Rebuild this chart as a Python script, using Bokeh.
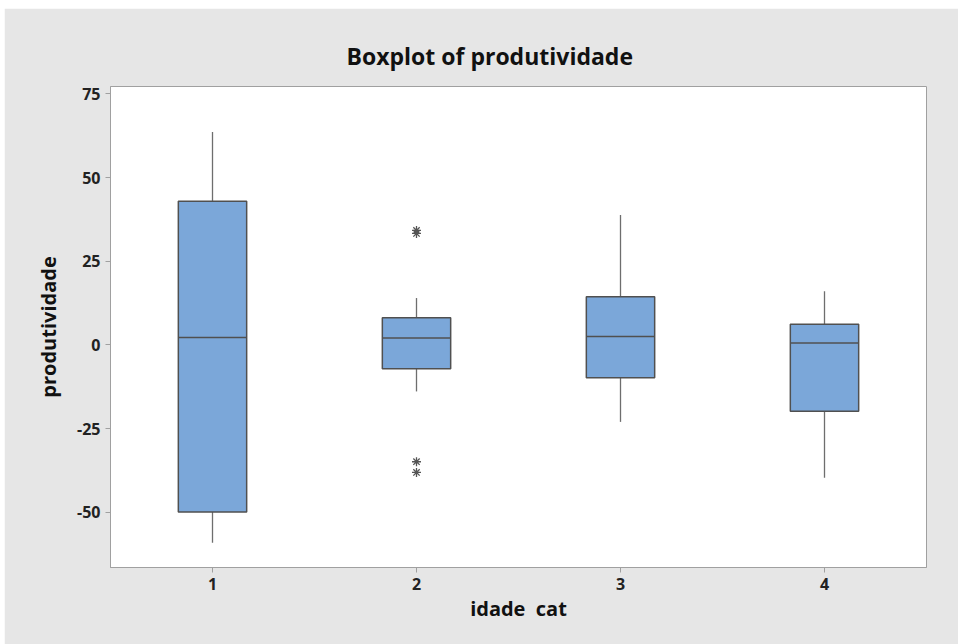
from bokeh.plotting import figure
from bokeh.models import ColumnDataSource, FixedTicker, Range1d
from bokeh.embed import file_html
from bokeh.resources import INLINE

# Data
categories = [1, 2, 3, 4]
whisker_low = [-59.1, -13.9, -23.0, -39.7]
q1 = [-49.9, -7.1, -9.8, -19.8]
median = [2.2, 2.1, 2.5, 0.6]
q3 = [42.9, 8.1, 14.4, 6.2]
whisker_high = [63.6, 14.0, 38.8, 16.0]
outlier_cat = [2, 2, 2, 2]
outlier_val = [34.2, 33.3, -34.9, -38.1]
y_ticks = [-50, -25, 0, 25, 50, 75]
y_tick_labels = ["-50", "-25", "0", "25", "50", "75"]

FONT = "Open Sans"
BG = "#E6E6E6"
BOX = "#7BA7D9"
EDGE = "#505050"

p = figure(width=954, height=636, margin=(8, 0, 0, 4),
           output_backend="svg", toolbar_location=None,
           x_range=Range1d(0.5, 4.5), y_range=Range1d(-66.5, 77.2),
           min_border_left=106, min_border_right=32, min_border_top=78,
           min_border_bottom=77,
           title="Boxplot of produtividade")
p.background_fill_color = "white"
p.border_fill_color = BG
p.outline_line_color = "#A0A0A0"
p.outline_line_width = 1
p.xgrid.visible = False
p.ygrid.visible = False

p.title.align = "left"
p.title.offset = 236
p.title.text_font = FONT
p.title.text_font_size = "23px"
p.title.text_font_style = "bold"
p.title.text_color = "#111111"
p.title.standoff = 30

src = ColumnDataSource(dict(x=categories, lo=whisker_low, q1=q1, med=median,
                            q3=q3, hi=whisker_high,
                            xl=[c - 0.1675 for c in categories],
                            xr=[c + 0.1675 for c in categories]))

p.segment(x0="x", y0="q3", x1="x", y1="hi", source=src, line_color="#6E6E6E", line_width=1.3)
p.segment(x0="x", y0="lo", x1="x", y1="q1", source=src, line_color="#6E6E6E", line_width=1.3)
p.vbar(x="x", width=0.335, bottom="q1", top="q3", source=src,
       fill_color=BOX, line_color=EDGE, line_width=1.5)
p.segment(x0="xl", y0="med", x1="xr", y1="med", source=src, line_color=EDGE, line_width=1.5)

p.scatter(x=outlier_cat, y=outlier_val, marker="asterisk", size=9,
          line_color="#555555", line_width=1.3)

p.xaxis.ticker = FixedTicker(ticks=categories)
p.yaxis.ticker = FixedTicker(ticks=y_ticks)
p.yaxis.major_label_overrides = {t: l for t, l in zip(y_ticks, y_tick_labels)}
p.xaxis.axis_label = "idade\u00a0\u00a0cat"
p.yaxis.axis_label = "produtividade"
for ax in (p.xaxis[0], p.yaxis[0]):
    ax.axis_line_color = "#A0A0A0"
    ax.major_tick_line_color = "#A0A0A0"
    ax.major_tick_out = 5
    ax.major_tick_in = 0
    ax.minor_tick_line_color = None
    ax.major_label_text_font = FONT
    ax.major_label_text_font_size = "16px"
    ax.major_label_text_font_style = "bold"
    ax.major_label_text_color = "#222222"
    ax.axis_label_text_font = FONT
    ax.axis_label_text_font_size = "20px"
    ax.axis_label_text_font_style = "bold"
    ax.axis_label_text_color = "#111111"
p.yaxis.major_label_standoff = 5
p.xaxis.major_label_standoff = 5
p.yaxis.axis_label_standoff = 12
p.xaxis.axis_label_standoff = 2

open("out.html", "w").write(file_html(p, INLINE))
